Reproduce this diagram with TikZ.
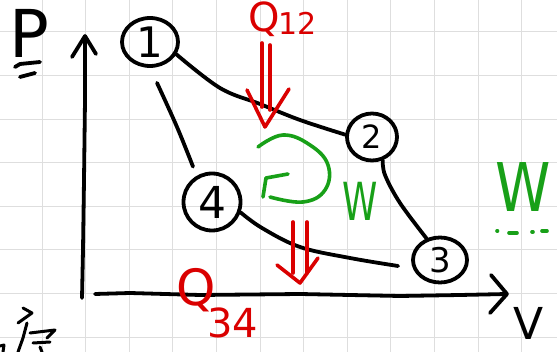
\documentclass[tikz,border=0pt]{standalone}
\usepackage{fontspec}
\setmainfont{DejaVu Sans}
\usetikzlibrary{calc,shapes.geometric}
\definecolor{qred}{RGB}{218,0,0}
\definecolor{wgreen}{RGB}{24,160,24}
\definecolor{gridc}{RGB}{222,222,222}
\begin{document}
\begin{tikzpicture}[x=1pt,y=-1pt,line cap=round,line join=round,
  gridline/.style={draw=gridc,line width=1pt},
  ink/.style={draw=black,line width=3.8pt},
  redink/.style={draw=qred,line width=3.6pt},
  greenink/.style={draw=wgreen,line width=3.6pt},
  state/.style={draw,ellipse,line width=3.8pt,inner sep=0pt},
  blk/.style={text=black,inner sep=0pt},
  redlbl/.style={text=qred,inner sep=0pt},
  greenlbl/.style={text=wgreen,inner sep=0pt}]
\useasboundingbox (0,0) rectangle (557,352);
\fill[white] (0,0) rectangle (557,352);
% grid
\foreach \i in {0,...,11} \draw[gridline] ({42+43.6*\i},0) -- ({42+43.6*\i},352);
\foreach \j in {0,...,7} \draw[gridline] (0,{32+43.6*\j}) -- (557,{32+43.6*\j});
% axes
\draw[ink] (82,298) -- (83,250) -- (84,180) -- (85,100) -- (85,38);
\draw[ink] (72,57) -- (85,36) -- (96,54);
\draw[ink] (95,294) -- (130,293) -- (200,295) -- (300,294) -- (400,296) -- (460,295) -- (507,294);
\draw[ink] (491,275) -- (507,294) -- (490,313);
% axis labels
\node[blk,anchor=base west,font=\fontsize{66}{66}\selectfont] (plabel) at (9,58) {P};
\draw[ink] (15,67) -- (20,64) -- (40,62);
\draw[ink] (20,77) -- (35,73);
\node[blk,anchor=base west,font=\fontsize{44}{44}\selectfont] (vlabel) at (513,340) {V};
% states
\node[state,minimum width=56pt,minimum height=48pt,font=\fontsize{42}{42}\selectfont] (n1) at (150,42) {1};
\node[state,minimum width=50pt,minimum height=47pt,font=\fontsize{32}{32}\selectfont] (n2) at (372,137) {2};
\node[state,minimum width=54pt,minimum height=45pt,font=\fontsize{34}{34}\selectfont] (n3) at (440,260) {3};
\node[state,minimum width=57pt,minimum height=57pt,font=\fontsize{44}{44}\selectfont] (n4) at (212,202) {4};
% process curves
\draw[ink] plot[smooth,tension=0.6] coordinates {(n1.-25) (220,88) (260,104) (300,120) (n2.175)};
\draw[ink] plot[smooth,tension=0.6] coordinates {(n2.-65) (385,175) (400,203) (n3.122)};
\draw[ink] plot[smooth,tension=0.6] coordinates {($(n3.west)+(-13,6)$) (350,258) (300,247) (262,228) (n4.-20)};
\draw[ink] plot[smooth,tension=0.6] coordinates {($(n1.south)+(7,15)$) (177,127) ($(n4.north)+(-19,-5)$)};
% heat arrows
\draw[redink] (262,43) -- (262,107);
\draw[redink] (270,45) -- (270,110);
\draw[redink] (247,90) -- (265,127) -- (289,89);
\draw[redink] (293,222) -- (293,273);
\draw[redink] (307,222) -- (307,273);
\draw[redink] (277,265) -- (300,283) -- (318,258);
\node[redlbl,anchor=base west] (q12) at (248,32) {\fontsize{40}{40}\selectfont Q\kern-1pt\raisebox{-3pt}{\fontsize{30}{30}\selectfont 12}};
\node[redlbl,anchor=base west] (q34) at (176,306) {\fontsize{50}{50}\selectfont Q\kern-8pt\raisebox{-32pt}{\fontsize{40}{40}\selectfont 34}};
% work cycle
\draw[greenink] plot[smooth,tension=0.7] coordinates {(258,147) (283,135) (310,145) (328,165) (325,190) (303,202) (270,197)};
\draw[greenink] (288,174) -- (266,178) -- (263,197);
\node[greenlbl] (wmid) at (360,201) {\fontsize{42}{42}\selectfont\scalebox{0.85}[1.25]{W}};
\node[greenlbl,anchor=base west] (wright) at (495,212) {\fontsize{56}{56}\selectfont\scalebox{1}[1.2]{W}};
\draw[greenink] (497,231) -- (497.5,231) (509,233) -- (517,233) (532,232) -- (533,232) (542,231) -- (547,231);
% partial handwriting at lower left
\draw[ink,line width=3pt] (23,308) -- (32,313) -- (18,323);
\draw[ink,line width=3pt] (27,323) -- (23,338) -- (18,352);
\draw[ink,line width=3pt] (30,333) -- (55,330) -- (47,338);
\draw[ink,line width=3pt] (33,343) -- (50,342);
\draw[ink,line width=3pt] (40,347) -- (42,352);
\draw[ink,line width=3pt] (0,346) -- (4,345) -- (3,352);
\end{tikzpicture}
\end{document}
